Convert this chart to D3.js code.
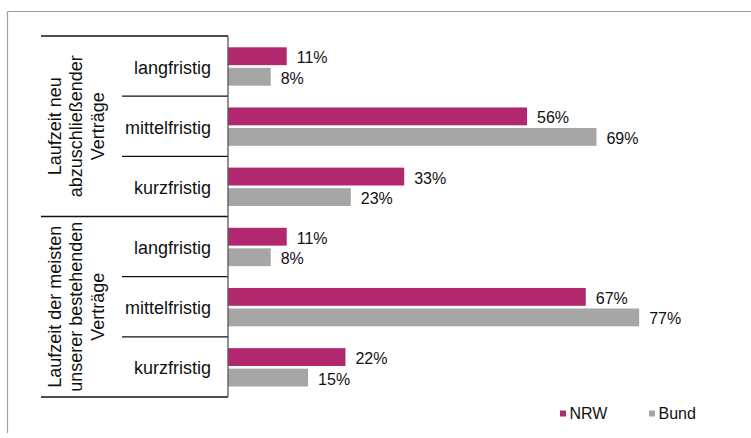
<!DOCTYPE html>
<html>
<head>
<meta charset="utf-8">
<script src="https://cdn.jsdelivr.net/npm/d3@7"></script>
<style>
  html, body { margin: 0; padding: 0; background: #fff; }
  svg { display: block; font-family: "Liberation Sans", Arial, sans-serif; }
</style>
</head>
<body>
<svg id="chart" width="751" height="438"></svg>
<script>
// Contract durations, share of answers
const groups = [
  ["Laufzeit neu", "abzuschließender", "Verträge"],
  ["Laufzeit der meisten", "unserer bestehenden", "Verträge"]
];
const categories = ["langfristig", "mittelfristig", "kurzfristig"];
const seriesNames = ["NRW", "Bund"];
const nrwValues = [0.11, 0.56, 0.33, 0.11, 0.67, 0.22];
const bundValues = [0.08, 0.69, 0.23, 0.08, 0.77, 0.15];
const colors = ["#B1286F", "#A6A6A6"];

const svg = d3.select("#chart");

// outer frame (top and left edges visible)
svg.append("line").attr("x1", 7.5).attr("x2", 751).attr("y1", 11.5).attr("y2", 11.5)
  .attr("stroke", "#a0a0a0").attr("stroke-width", 1.2);
svg.append("line").attr("x1", 7.5).attr("x2", 7.5).attr("y1", 11.5).attr("y2", 433)
  .attr("stroke", "#a0a0a0").attr("stroke-width", 1.2);

const axisX = 228;
const plotTop = 36, plotBottom = 397;

// one row per (group, category)
const rows = [];
groups.forEach((g, gi) => categories.forEach((c, ci) => {
  const i = gi * categories.length + ci;
  rows.push({ id: i, group: gi, category: c, values: [nrwValues[i], bundValues[i]] });
}));

const y = d3.scaleBand().domain(rows.map(r => r.id)).range([plotTop, plotBottom]).padding(0);
const ySeries = d3.scaleBand().domain(seriesNames)
  .range([11.3, y.bandwidth() - 10.5]).paddingInner(0.13);
const x = d3.scaleLinear().domain([0, 1]).range([axisX, axisX + 534]);
const color = d3.scaleOrdinal().domain(seriesNames).range(colors);

// bars
const rowG = svg.selectAll("g.row").data(rows).join("g")
  .attr("class", "row")
  .attr("transform", d => `translate(0,${y(d.id)})`);

rowG.selectAll("rect").data(d => seriesNames.map((s, k) => ({ s, v: d.values[k] })))
  .join("rect")
  .attr("x", x(0))
  .attr("y", d => ySeries(d.s))
  .attr("width", d => x(d.v) - x(0))
  .attr("height", ySeries.bandwidth())
  .attr("fill", d => color(d.s));

rowG.selectAll("text.val").data(d => seriesNames.map((s, k) => ({ s, v: d.values[k] })))
  .join("text")
  .attr("class", "val")
  .attr("x", d => x(d.v) + 10)
  .attr("y", d => ySeries(d.s) + ySeries.bandwidth() / 2 + 7)
  .attr("font-size", 16)
  .attr("fill", "#111")
  .text(d => d3.format(".0%")(d.v));

// category labels
rowG.append("text")
  .attr("x", 211)
  .attr("y", y.bandwidth() / 2 + 7.5)
  .attr("text-anchor", "end")
  .attr("font-size", 18)
  .attr("fill", "#111")
  .text(d => d.category);

// separators
const lineColor = "#111";
rows.forEach((r, i) => {
  if (i === 0) return;
  const starts = (i % categories.length === 0);
  svg.append("line")
    .attr("x1", starts ? 41 : 122).attr("x2", axisX)
    .attr("y1", y(r.id)).attr("y2", y(r.id))
    .attr("stroke", lineColor).attr("stroke-width", 1.3);
});
[plotTop, plotBottom].forEach(v => {
  svg.append("line").attr("x1", 41).attr("x2", axisX)
    .attr("y1", v).attr("y2", v)
    .attr("stroke", lineColor).attr("stroke-width", 1.3);
});
svg.append("line").attr("x1", axisX).attr("x2", axisX)
  .attr("y1", plotTop).attr("y2", plotBottom)
  .attr("stroke", "#555").attr("stroke-width", 1.3);

// group labels, rotated
groups.forEach((lines, gi) => {
  const y0 = y(gi * categories.length);
  const y1 = y((gi + 1) * categories.length - 1) + y.bandwidth();
  const cy = (y0 + y1) / 2;
  const t = svg.append("text")
    .attr("transform", `translate(0,${cy}) rotate(-90)`)
    .attr("text-anchor", "middle")
    .attr("font-size", 18)
    .attr("fill", "#111");
  lines.forEach((ln, li) => {
    t.append("tspan").attr("x", 0).attr("y", 60.5 + li * 21.5).text(ln);
  });
});

// legend
const legend = svg.append("g");
const legendX = [560, 649];
seriesNames.forEach((s, k) => {
  legend.append("rect").attr("x", legendX[k]).attr("y", 410.5)
    .attr("width", 6).attr("height", 6).attr("fill", color(s));
  legend.append("text").attr("x", legendX[k] + 9.5).attr("y", 418.5)
    .attr("font-size", 16).attr("fill", "#111").text(s);
});
</script>
</body>
</html>
